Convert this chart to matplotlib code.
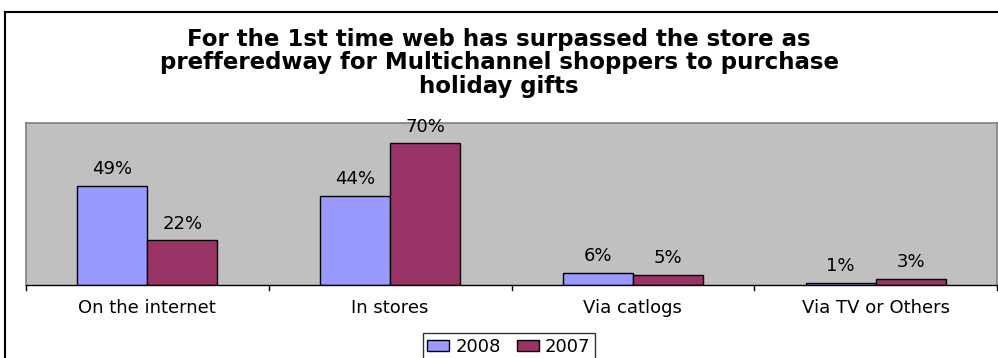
import matplotlib
matplotlib.use("Agg")
import matplotlib.pyplot as plt
from matplotlib.lines import Line2D
from matplotlib.patches import Patch
import numpy as np

categories = ["On the internet", "In stores", "Via catlogs", "Via TV or Others"]
series_names = ["2008", "2007"]
values_2008 = [49, 44, 6, 1]
values_2007 = [22, 70, 5, 3]
title = ("For the 1st time web has surpassed the store as\n"
         "prefferedway for Multichannel shoppers to purchase\n"
         "holiday gifts")

colors = ["#9999FF", "#993366"]

plt.rcParams['font.family'] = ['DejaVu Sans']

W, H = 998, 358
fig = plt.figure(figsize=(W / 100, H / 100), dpi=100)

# outer frame (left and top visible, extends off canvas)
fig.add_artist(Line2D([5 / W, 5 / W], [0, 1 - 12 / H], transform=fig.transFigure,
                      color="black", lw=1.5))
fig.add_artist(Line2D([5 / W, 1], [1 - 12 / H, 1 - 12 / H], transform=fig.transFigure,
                      color="black", lw=1.5))

left, right, top, bottom = 26, 997, 123, 285
ax = fig.add_axes([left / W, 1 - bottom / H, (right - left) / W, (bottom - top) / H])
ax.set_facecolor("#C0C0C0")

x = np.arange(len(categories))
bw = 0.288
b1 = ax.bar(x - bw / 2, values_2008, bw, color=colors[0], edgecolor="black", lw=1.0,
            label=series_names[0])
b2 = ax.bar(x + bw / 2, values_2007, bw, color=colors[1], edgecolor="black", lw=1.0,
            label=series_names[1])

for bars, vals in ((b1, values_2008), (b2, values_2007)):
    for r, v in zip(bars, vals):
        ax.annotate(f"{v}%", (r.get_x() + r.get_width() / 2, r.get_height()),
                    xytext=(0, 5.5), textcoords="offset points", ha="center",
                    va="bottom", fontsize=13)

ax.set_xlim(-0.5, len(categories) - 0.5)
ax.set_ylim(0, 80)
ax.set_yticks([])
ax.set_xticks(x)
ax.set_xticklabels(categories, fontsize=13)
ax.tick_params(axis="x", length=0, pad=10)
# boundary ticks
for b in np.arange(-0.5, len(categories), 1.0):
    ax.plot([b, b], [0, -2.5], color="black", lw=1, clip_on=False)

for s in ("top", "left", "right"):
    ax.spines[s].set_color("#808080")
    ax.spines[s].set_linewidth(1.2)
ax.spines["bottom"].set_color("black")
ax.spines["bottom"].set_linewidth(1.0)

fig.text(0.5, 1 - 63 / H, title, ha="center", va="center", fontsize=16.5,
         fontweight="bold", linespacing=1.01)

handles = [Patch(facecolor=colors[0], edgecolor="black", lw=1),
           Patch(facecolor=colors[1], edgecolor="black", lw=1)]
leg = fig.legend(handles, series_names, loc="upper center",
                 bbox_to_anchor=(509 / W, 1 - 333 / H), ncol=2, fontsize=13,
                 frameon=True, fancybox=False, edgecolor="black",
                 handlelength=1.2, handleheight=0.55, handletextpad=0.35,
                 columnspacing=0.9, borderpad=0.25, borderaxespad=0)
leg.get_frame().set_linewidth(1.0)

fig.savefig("out.png", dpi=100)
